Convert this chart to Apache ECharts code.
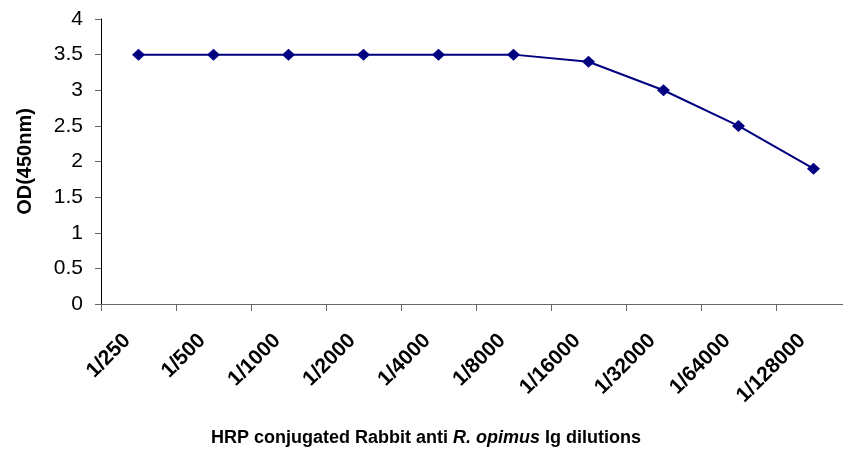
<!DOCTYPE html>
<html>
<head>
<meta charset="utf-8">
<script src="https://cdn.jsdelivr.net/npm/echarts@6/dist/echarts.min.js"></script>
<style>html,body{margin:0;padding:0;background:#fff;}#c{width:843px;height:455px;}</style>
</head>
<body>
<div id="c"></div>
<script>
const categories = ['1/250','1/500','1/1000','1/2000','1/4000','1/8000','1/16000','1/32000','1/64000','1/128000'];
const odValues = [3.5, 3.5, 3.5, 3.5, 3.5, 3.5, 3.4, 3.0, 2.5, 1.9];
const yTicks = { min: 0, max: 4, interval: 0.5 };

const chart = echarts.init(document.getElementById('c'), null, { renderer: 'canvas' });
chart.setOption({
  animation: false,
  backgroundColor: '#ffffff',
  title: {
    text: 'HRP conjugated Rabbit anti {i|R. opimus} Ig dilutions',
    left: 206,
    top: 424,
    textStyle: {
      fontFamily: 'Liberation Sans, Arial, sans-serif',
      fontSize: 18,
      fontWeight: 'bold',
      color: '#000',
      rich: {
        i: { fontFamily: 'Liberation Sans, Arial, sans-serif', fontSize: 18, fontWeight: 'bold', fontStyle: 'italic', color: '#000' }
      }
    }
  },
  grid: { left: 101, top: 19, width: 750, bottom: 151, containLabel: false, outerBoundsMode: 'none' },
  xAxis: {
    type: 'category',
    data: categories,
    boundaryGap: true,
    axisLine: { lineStyle: { color: '#666', width: 1 } },
    axisTick: { show: true, length: 7, lineStyle: { color: '#666' }, alignWithLabel: false },
    axisLabel: {
      rotate: 45,
      margin: 22,
      padding: [0, 16, 0, 0],
      fontFamily: 'Liberation Sans, Arial, sans-serif',
      fontSize: 21,
      fontWeight: 'bold',
      color: '#000',
      interval: 0
    },
    splitLine: { show: false }
  },
  yAxis: {
    type: 'value',
    min: yTicks.min,
    max: yTicks.max,
    interval: yTicks.interval,
    name: 'OD(450nm)',
    nameLocation: 'middle',
    nameRotate: 90,
    nameGap: 66,
    nameTextStyle: {
      fontFamily: 'Liberation Sans, Arial, sans-serif',
      fontSize: 20,
      fontWeight: 'bold',
      color: '#000'
    },
    axisLine: { show: true, lineStyle: { color: '#000', width: 1 } },
    axisTick: { show: true, length: 6, lineStyle: { color: '#666' } },
    axisLabel: {
      margin: 18,
      fontFamily: 'Liberation Sans, Arial, sans-serif',
      fontSize: 21,
      color: '#000'
    },
    splitLine: { show: false }
  },
  series: [{
    type: 'line',
    data: odValues,
    symbol: 'diamond',
    symbolSize: [13, 12],
    lineStyle: { color: '#000080', width: 2 },
    itemStyle: { color: '#000080' },
    clip: false
  }]
});
</script>
</body>
</html>
